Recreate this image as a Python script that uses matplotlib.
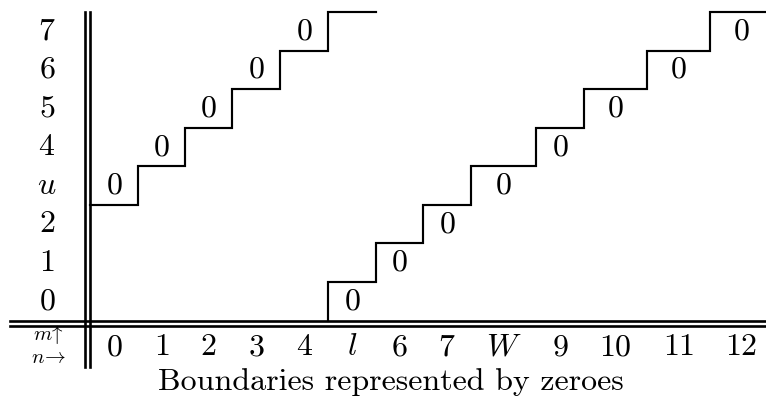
import matplotlib.pyplot as plt

plt.rcParams["mathtext.fontset"] = "cm"

# table contents (rows listed bottom to top)
ROW_LABELS = ["0", "1", "2", "u", "4", "5", "6", "7"]
COL_LABELS = ["0", "1", "2", "3", "4", "l", "6", "7", "W", "9", "10", "11", "12"]
CAPTION = "Boundaries represented by zeroes"

# cells that hold a zero: column index / row index
UPPER_ZERO_COLS = [0, 1, 2, 3, 4]
UPPER_ZERO_ROWS = [3, 4, 5, 6, 7]
LOWER_ZERO_COLS = [5, 6, 7, 8, 9, 10, 11, 12]
LOWER_ZERO_ROWS = [0, 1, 2, 3, 4, 5, 6, 7]

# layout (pixels per column, row height in px)
COL_WIDTHS = [48, 47, 47, 48, 48, 48, 47, 48, 65, 48, 63, 63, 63]
ROW_PX = 38.5
FONT = 23
LW = 1.55
RULE_LW = 1.9


def math(s):
    return "$" + s + "$"


def stair_path(cols, tops, edges):
    xs, ys = [], []
    for c, t in zip(cols, tops):
        xs += [edges[c], edges[c + 1]]
        ys += [t, t]
    return xs, ys


fig = plt.figure(figsize=(7.66, 3.97), dpi=100)
W, H = 766, 397
left_px, top_px, bottom_px = 90, 12, 320.5
n_rows = len(ROW_LABELS)
width = sum(COL_WIDTHS)
ax = fig.add_axes([left_px / W, (H - bottom_px) / H, width / W, (bottom_px - top_px) / H])
ax.set_xlim(0, width)
ax.set_ylim(0, n_rows)
ax.axis("off")

edges = [0]
for w in COL_WIDTHS:
    edges.append(edges[-1] + w)
centers = [(a + b) / 2 for a, b in zip(edges[:-1], edges[1:])]

px = 1 / ROW_PX  # one pixel in row units
base = 0.29       # baseline offset inside a row

# row labels
for i, lab in enumerate(ROW_LABELS):
    ax.text(-43, i + base, math(lab), fontsize=FONT, ha="center", va="baseline", clip_on=False)

# column labels
for c, lab in enumerate(COL_LABELS):
    ax.text(centers[c], -34.5 * px, math(lab), fontsize=FONT, ha="center", va="baseline", clip_on=False)

ax.text(-42, -19.5 * px, r"$m\!\uparrow$", fontsize=15, ha="center", va="baseline", clip_on=False)
ax.text(-42, -42.5 * px, r"$n\!\rightarrow$", fontsize=15, ha="center", va="baseline", clip_on=False)

ax.text(301, -69.5 * px, CAPTION, fontsize=FONT, family="cmr10", ha="center", va="baseline", clip_on=False)

# zeros
for c, r in zip(UPPER_ZERO_COLS, UPPER_ZERO_ROWS):
    ax.text(centers[c], r + base, "$0$", fontsize=FONT, ha="center", va="baseline")
for c, r in zip(LOWER_ZERO_COLS, LOWER_ZERO_ROWS):
    ax.text(centers[c], r + base, "$0$", fontsize=FONT, ha="center", va="baseline")

# upper staircase runs under its zeros and one column further at the top
cols = UPPER_ZERO_COLS + [UPPER_ZERO_COLS[-1] + 1]
tops = UPPER_ZERO_ROWS + [UPPER_ZERO_ROWS[-1] + 1]
xs, ys = stair_path(cols, tops, edges)
ax.plot(xs, ys, color="black", lw=LW, clip_on=False, solid_joinstyle="miter")

# lower staircase runs over its zeros, starting at the baseline
xs, ys = stair_path(LOWER_ZERO_COLS, [r + 1 for r in LOWER_ZERO_ROWS], edges)
xs = [edges[LOWER_ZERO_COLS[0]]] + xs
ys = [0] + ys
ax.plot(xs, ys, color="black", lw=LW, clip_on=False, solid_joinstyle="miter")

# double rules
for x in (-5, 0):
    ax.plot([x, x], [n_rows, -46.5 * px], color="black", lw=RULE_LW, clip_on=False)
for y in (0, -5 * px):
    ax.plot([-80, width + 20], [y, y], color="black", lw=RULE_LW, clip_on=False)

fig.savefig("out.png", dpi=100)
